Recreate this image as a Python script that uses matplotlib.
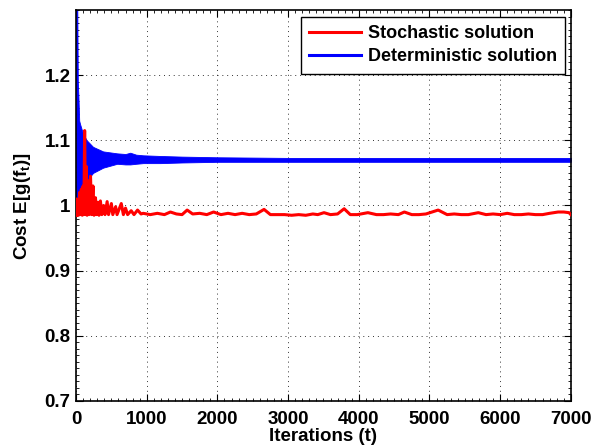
import matplotlib.pyplot as plt
from matplotlib.lines import Line2D
from matplotlib.ticker import MultipleLocator

plt.rcParams['font.family'] = ['Liberation Sans', 'DejaVu Sans']
plt.rcParams['font.weight'] = 'bold'
plt.rcParams['mathtext.fontset'] = 'custom'
plt.rcParams['mathtext.bf'] = 'Liberation Sans:bold'
plt.rcParams['mathtext.rm'] = 'Liberation Sans:bold'

# Stochastic solution (red)
red_t = [0, 7, 14, 25, 35, 50, 62, 75, 88, 100, 110, 122, 134, 145, 156, 170,
         185, 205, 220, 240, 255, 275, 290, 310, 325, 345, 365, 390, 410, 440,
         460, 500, 520, 560, 580, 640, 670, 700, 730, 780, 820, 870, 920,
         950, 1050, 1150, 1250, 1335, 1420, 1500, 1572, 1650, 1750, 1850, 1946,
         2050, 2150, 2250, 2350, 2450, 2550, 2660, 2750, 2850, 2950, 3050, 3150,
         3250, 3350, 3420, 3508, 3600, 3700, 3793, 3880, 3980, 4129, 4250, 4350,
         4450, 4560, 4645, 4750, 4850, 4950, 5123, 5250, 5350, 5450, 5550, 5691,
         5800, 5900, 6000, 6100, 6200, 6300, 6400, 6500, 6600, 6700, 6820, 6900,
         6975, 7000]
red_v = [0.985, 1.01, 0.985, 1.002, 0.985, 1.02, 0.986, 1.025, 0.985, 1.03,
         0.986, 1.115, 0.986, 1.06, 0.985, 1.038, 0.986, 1.045, 0.986, 1.03,
         0.985, 1.012, 0.986, 1.005, 0.985, 1.007, 0.986, 1.0, 0.986, 1.006,
         0.986, 1.003, 0.986, 0.998, 0.986, 1.003, 0.986, 0.996, 0.986, 0.992,
         0.986, 0.993, 0.987,
         0.988, 0.986, 0.988, 0.986, 0.990, 0.987, 0.986, 0.993, 0.987, 0.988,
         0.986, 0.990, 0.986, 0.988, 0.986, 0.988, 0.986, 0.987, 0.994, 0.986,
         0.986, 0.986, 0.985, 0.986, 0.985, 0.987, 0.986, 0.989, 0.986, 0.987,
         0.995, 0.986, 0.986, 0.989, 0.986, 0.986, 0.987, 0.986, 0.990, 0.986,
         0.986, 0.987, 0.993, 0.986, 0.987, 0.986, 0.986, 0.989, 0.986, 0.987,
         0.986, 0.988, 0.986, 0.986, 0.987, 0.986, 0.986, 0.988, 0.990, 0.990,
         0.989, 0.986]

# Deterministic solution (blue): envelope of the oscillating band
blue_t = [0, 18, 25, 33, 45, 57, 99, 152, 241, 383, 582, 700, 767, 850, 951,
          1193, 1500, 2000, 3000, 7000]
blue_hi = [1.30, 1.30, 1.19, 1.17, 1.13, 1.125, 1.11, 1.10, 1.09, 1.083, 1.08,
           1.079, 1.081, 1.078, 1.077, 1.076, 1.075, 1.074, 1.073, 1.073]
blue_lo = [0.985, 0.985, 0.99, 1.0, 1.008, 1.012, 1.025, 1.038, 1.05, 1.058,
           1.064, 1.063, 1.063, 1.064, 1.065, 1.065, 1.066, 1.067, 1.067, 1.067]

fig = plt.figure(figsize=(5.94, 4.46), dpi=100)
ax = fig.add_axes([0.128, 0.1009, 0.833, 0.8767])

ax.fill_between(blue_t, blue_lo, blue_hi, color='#0000ff', lw=0.6,
                edgecolor='#0000ff', zorder=2)
ax.plot(red_t, red_v, color='#ff0000', lw=2.2, zorder=3)

ax.set_xlim(0, 7000)
ax.set_ylim(0.7, 1.3)
ax.set_xticks(range(0, 7001, 1000))
ax.set_yticks([0.7, 0.8, 0.9, 1.0, 1.1, 1.2])
ax.set_yticklabels(['0.7', '0.8', '0.9', '1', '1.1', '1.2'])
ax.xaxis.set_minor_locator(MultipleLocator(100))
ax.yaxis.set_minor_locator(MultipleLocator(0.01))
ax.tick_params(which='both', direction='in', top=True, right=True,
               labelsize=13.5)
ax.tick_params(axis='x', pad=7)
ax.tick_params(axis='y', pad=4)
ax.tick_params(which='major', length=5, width=0.8)
ax.tick_params(which='minor', length=2, width=0.6)
ax.grid(True, which='major', linestyle=(0, (1, 4)), color='black', lw=0.7,
        alpha=0.8)
for s in ax.spines.values():
    s.set_linewidth(1.2)

ax.set_xlabel('Iterations (t)', fontsize=13.5, fontweight='bold', labelpad=0)
ax.set_ylabel(r'Cost E[g(f$_\mathbf{t}$)]', fontsize=13.5, fontweight='bold',
              labelpad=8)

handles = [Line2D([], [], color='#ff0000', lw=2.2),
           Line2D([], [], color='#0000ff', lw=2.2)]
leg = ax.legend(handles, ['Stochastic solution', 'Deterministic solution'],
                loc='upper right', fontsize=13, frameon=True, fancybox=False,
                edgecolor='black', borderpad=0.45, handlelength=2.9,
                handletextpad=0.35, labelspacing=0.35, borderaxespad=0,
                bbox_to_anchor=(0.988, 0.982))
leg.get_frame().set_linewidth(1.0)
leg.get_frame().set_alpha(1)

fig.savefig('out.png', dpi=100)
